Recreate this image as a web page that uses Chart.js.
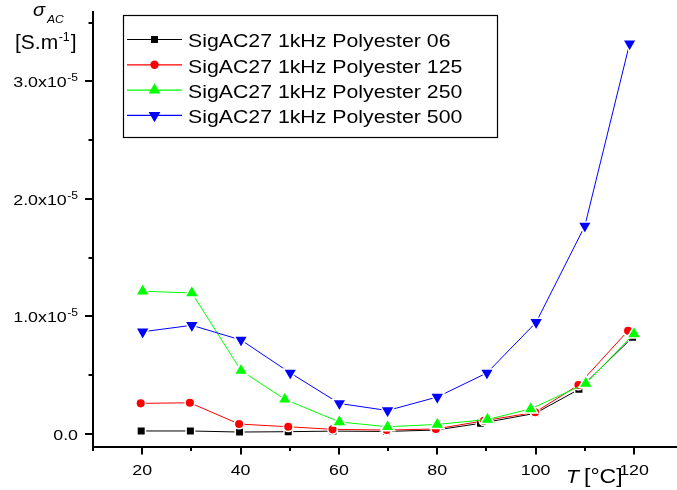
<!DOCTYPE html>
<html>
<head>
<meta charset="utf-8">
<title>σAC vs T</title>
<script src="https://cdn.jsdelivr.net/npm/chart.js@4.4.1/dist/chart.umd.min.js"></script>
<style>
  html, body { margin: 0; padding: 0; background: #fff; }
  #wrap { width: 677px; height: 490px; }
</style>
</head>
<body>
<div id="wrap"><canvas id="c" width="677" height="490"></canvas></div>
<script>
// Series names
const seriesNames = [
  'SigAC27 1kHz Polyester 06',
  'SigAC27 1kHz Polyester 125',
  'SigAC27 1kHz Polyester 250',
  'SigAC27 1kHz Polyester 500'
];

// Temperatures (°C) and AC conductivity (S/m) for each sample
const temp06  = [19.8, 29.8, 39.8, 49.7, 58.8, 69.7, 79.7, 88.8, 99.9, 108.8, 119.7];
const sig06   = [0.026e-5, 0.026e-5, 0.017e-5, 0.020e-5, 0.025e-5, 0.022e-5, 0.034e-5, 0.091e-5, 0.176e-5, 0.380e-5, 0.823e-5];

const temp125 = [19.7, 29.7, 39.7, 49.7, 58.7, 69.7, 79.7, 89.5, 99.9, 108.7, 118.8];
const sig125  = [0.261e-5, 0.266e-5, 0.085e-5, 0.062e-5, 0.040e-5, 0.034e-5, 0.043e-5, 0.113e-5, 0.185e-5, 0.417e-5, 0.879e-5];

const temp250 = [20.1, 30.1, 40.1, 49.0, 60.1, 69.9, 80.0, 90.2, 99.0, 110.2, 120.0];
const sig250  = [1.215e-5, 1.200e-5, 0.540e-5, 0.295e-5, 0.103e-5, 0.062e-5, 0.082e-5, 0.124e-5, 0.214e-5, 0.430e-5, 0.852e-5];

const temp500 = [20.1, 30.1, 40.1, 50.1, 60.1, 69.9, 80.0, 90.1, 100.1, 110.0, 119.1];
const sig500  = [0.870e-5, 0.925e-5, 0.800e-5, 0.520e-5, 0.260e-5, 0.200e-5, 0.315e-5, 0.520e-5, 0.950e-5, 1.770e-5, 3.320e-5];

// Axis ticks
const xMajorTicks = [20, 40, 60, 80, 100, 120];
const xMinorTicks = [10, 30, 50, 70, 90, 110];
const yMajorTicks = [0, 1e-5, 2e-5, 3e-5];
const yMinorTicks = [0.5e-5, 1.5e-5, 2.5e-5, 3.5e-5];
const yTickMantissa = ['0.0', '1.0x10', '2.0x10', '3.0x10'];
const yTickExponent = ['', '-5', '-5', '-5'];

const FONT = '"Liberation Sans", Arial, sans-serif';
const SX = 1.15; // horizontal text stretch

function drawText(ctx, text, x, y, font, align, baseline, sx) {
  ctx.save();
  ctx.font = font;
  ctx.textAlign = align;
  ctx.textBaseline = baseline;
  ctx.translate(x, y);
  ctx.scale(sx, 1);
  ctx.fillText(text, 0, 0);
  ctx.restore();
}
function textWidth(ctx, text, font, sx) {
  ctx.save();
  ctx.font = font;
  const w = ctx.measureText(text).width * sx;
  ctx.restore();
  return w;
}

function makeSeries(label, xs, ys, color, style, radius, rotation, order) {
  return {
    label,
    data: xs.map((t, i) => ({ x: t, y: ys[i] })),
    showLine: true,
    borderColor: color,
    backgroundColor: color,
    borderWidth: 1,
    tension: 0,
    pointStyle: style,
    pointRadius: radius,
    pointHoverRadius: radius,
    pointRotation: rotation,
    pointBackgroundColor: color,
    pointBorderColor: '#ffffff',
    pointBorderWidth: 1.5,
    order
  };
}

// Ticks, tick labels and axis titles
const axisDecor = {
  id: 'axisDecor',
  afterDraw(chart) {
    const { ctx, chartArea: a, scales: { x, y } } = chart;
    ctx.save();
    ctx.strokeStyle = '#000';
    ctx.fillStyle = '#000';
    ctx.lineWidth = 2;
    ctx.beginPath();
    xMajorTicks.forEach(v => { const px = Math.round(x.getPixelForValue(v)); ctx.moveTo(px, a.bottom); ctx.lineTo(px, a.bottom + 8); });
    xMinorTicks.forEach(v => { const px = Math.round(x.getPixelForValue(v)); ctx.moveTo(px, a.bottom); ctx.lineTo(px, a.bottom + 4.5); });
    yMajorTicks.forEach(v => { const py = Math.round(y.getPixelForValue(v)); ctx.moveTo(a.left, py); ctx.lineTo(a.left - 8, py); });
    yMinorTicks.forEach(v => { const py = Math.round(y.getPixelForValue(v)); ctx.moveTo(a.left, py); ctx.lineTo(a.left - 4.5, py); });
    ctx.stroke();

    // x tick labels
    const tickFont = '15.5px ' + FONT;
    xMajorTicks.forEach(v => {
      drawText(ctx, String(v), x.getPixelForValue(v), a.bottom + 24, tickFont, 'center', 'middle', SX);
    });

    // y tick labels with superscript exponent
    const expFont = '10.5px ' + FONT;
    const rightEdge = a.left - 15;
    yMajorTicks.forEach((v, i) => {
      const py = y.getPixelForValue(v);
      const ew = yTickExponent[i] ? textWidth(ctx, yTickExponent[i], expFont, SX) : 0;
      if (yTickExponent[i]) drawText(ctx, yTickExponent[i], rightEdge, py - 3, expFont, 'right', 'middle', SX);
      drawText(ctx, yTickMantissa[i], rightEdge - ew - (ew ? 0.5 : 0), py + 1.5, tickFont, 'right', 'middle', SX);
    });

    // y axis title: sigma_AC [S.m^-1]
    drawText(ctx, 'σ', 33, 16, 'italic 19px ' + FONT, 'left', 'alphabetic', 1.05);
    drawText(ctx, 'AC', 47, 22.5, 'italic 11.5px ' + FONT, 'left', 'alphabetic', 1.05);
    const tf = '21px ' + FONT;
    drawText(ctx, '[S.m', 15, 49, tf, 'left', 'alphabetic', 1.0);
    const w1 = textWidth(ctx, '[S.m', tf, 1.0);
    drawText(ctx, '-1', 15 + w1 + 0.5, 41, '12.5px ' + FONT, 'left', 'alphabetic', 1.0);
    const w2 = textWidth(ctx, '-1', '12.5px ' + FONT, 1.0);
    drawText(ctx, ']', 15 + w1 + w2 + 1.5, 49, tf, 'left', 'alphabetic', 1.0);

    // x axis title: T [°C]
    const xf = '18.5px ' + FONT;
    drawText(ctx, 'T', 566, 483, 'italic ' + xf, 'left', 'alphabetic', SX);
    drawText(ctx, '[°C]', 584, 483, '20px ' + FONT, 'left', 'alphabetic', SX);
    ctx.restore();
  }
};

// Framed legend inside the plot area
const legendBox = {
  id: 'legendBox',
  afterDraw(chart) {
    const ctx = chart.ctx;
    ctx.save();
    ctx.strokeStyle = '#000';
    ctx.lineWidth = 1.2;
    ctx.fillStyle = '#fff';
    ctx.fillRect(123, 15, 374, 123);
    ctx.strokeRect(123.5, 15.5, 374, 122);
    const legendRadius = [4.9, 4.2, 6.8, 6.8];
    chart.data.datasets.forEach((ds, i) => {
      const base = 47.3 + i * 25.3;
      const ly = base - 7.8;
      ctx.strokeStyle = ds.borderColor;
      ctx.lineWidth = 1.2;
      ctx.beginPath();
      ctx.moveTo(127, ly);
      ctx.lineTo(182, ly);
      ctx.stroke();
      ctx.fillStyle = ds.pointBackgroundColor;
      Chart.helpers.drawPoint(ctx, {
        pointStyle: ds.pointStyle,
        rotation: ds.pointRotation,
        radius: legendRadius[i],
        borderWidth: 0
      }, 154.5, ly);
      ctx.fillStyle = '#000';
      drawText(ctx, ds.label, 188, base, '18.5px ' + FONT, 'left', 'alphabetic', SX);
    });
    ctx.restore();
  }
};

new Chart(document.getElementById('c').getContext('2d'), {
  type: 'scatter',
  data: {
    datasets: [
      makeSeries(seriesNames[0], temp06,  sig06,  '#000000', 'rect',     6.0, 0,   4),
      makeSeries(seriesNames[1], temp125, sig125, '#ff0000', 'circle',   4.8, 0,   3),
      makeSeries(seriesNames[2], temp250, sig250, '#00ff00', 'triangle', 8.0, 0,   2),
      makeSeries(seriesNames[3], temp500, sig500, '#0000ff', 'triangle', 8.0, 180, 1)
    ]
  },
  options: {
    responsive: false,
    animation: false,
    devicePixelRatio: 1,
    layout: { autoPadding: false, padding: { top: 12, left: 0, right: 0, bottom: 0 } },
    plugins: { legend: { display: false }, tooltip: { enabled: false } },
    scales: {
      x: {
        type: 'linear',
        min: 10,
        max: 128.74,
        grid: { display: false, drawTicks: false },
        border: { display: true, color: '#000', width: 2 },
        ticks: { display: false },
        afterFit(s) { s.height = 43.5; }
      },
      y: {
        type: 'linear',
        min: -0.106e-5,
        max: 3.59e-5,
        grid: { display: false, drawTicks: false },
        border: { display: true, color: '#000', width: 2 },
        ticks: { display: false },
        afterFit(s) { s.width = 93; }
      }
    }
  },
  plugins: [axisDecor, legendBox]
});
</script>
</body>
</html>
